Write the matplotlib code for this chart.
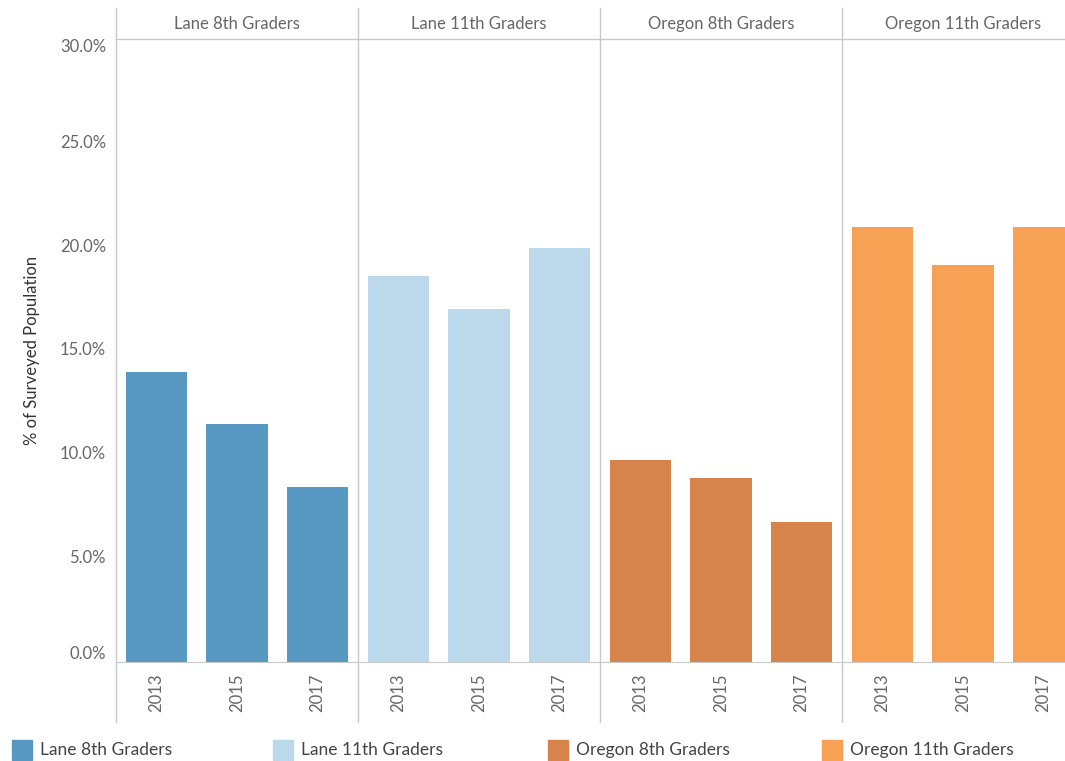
import matplotlib
matplotlib.use("Agg")
import matplotlib.pyplot as plt
from matplotlib.lines import Line2D

plt.rcParams['font.family'] = ['Lato', 'DejaVu Sans']

# data
groups = ["Lane 8th Graders", "Lane 11th Graders", "Oregon 8th Graders", "Oregon 11th Graders"]
years = ["2013", "2015", "2017"]
lane_8th = [13.95, 11.45, 8.45]
lane_11th = [18.6, 17.0, 19.95]
oregon_8th = [9.75, 8.85, 6.75]
oregon_11th = [20.95, 19.1, 20.95]
values = [lane_8th, lane_11th, oregon_8th, oregon_11th]
colors = ["#5899c4", "#bcd9ec", "#d6844b", "#f6a154"]
yticks = [0, 5, 10, 15, 20, 25, 30]

W, H = 1065, 761
fig = plt.figure(figsize=(W / 100, H / 100), dpi=100)

left = 116
panel_w = 242
top = 39
bottom = 662
grey = "#c8c8c8"
txt = "#666666"

for i, (g, vals, c) in enumerate(zip(groups, values, colors)):
    x0 = left + i * panel_w
    ax = fig.add_axes([x0 / W, 1 - bottom / H, panel_w / W, (bottom - top) / H])
    ax.bar(range(len(years)), vals, width=0.76, color=c)
    ax.set_xlim(-0.5, 2.5)
    ax.set_ylim(0, 30)
    for s in ["top", "right", "left"]:
        ax.spines[s].set_visible(False)
    ax.spines["bottom"].set_color(grey)
    ax.set_xticks(range(len(years)))
    ax.set_xticklabels(years, rotation=90, color=txt, fontsize=12)
    ax.tick_params(axis="x", length=0, pad=8)
    ax.set_yticks([])
    if i == 0:
        # tick labels as text so the end labels sit inside the range
        trans = matplotlib.transforms.blended_transform_factory(fig.transFigure, ax.transData)
        for v in yticks:
            va = "center"
            if v == 30:
                va = "top"
            elif v == 0:
                va = "bottom"
            ax.text(106 / W, v, f"{v:.1f}%", transform=trans,
                    ha="right", va=va, color=txt, fontsize=12)
    fig.text((x0 + panel_w / 2) / W, 1 - 24 / H, g, ha="center", va="center",
             color=txt, fontsize=12)

fig.text(32 / W, 1 - 350 / H, "% of Surveyed Population", rotation=90,
         ha="center", va="center", color="#333333", fontsize=12)

# separators and header line
for i in range(4):
    x = (left + i * panel_w) / W
    fig.add_artist(Line2D([x, x], [1 - 8 / H, 1 - 722 / H], color=grey, lw=1))
fig.add_artist(Line2D([left / W, 1], [1 - top / H, 1 - top / H], color=grey, lw=1))

# legend
leg_x = [12, 273, 548, 822]
for lx, g, c in zip(leg_x, groups, colors):
    fig.patches.append(plt.Rectangle((lx / W, 1 - 760 / H), 20 / W, 20 / H,
                                     color=c, transform=fig.transFigure))
    fig.text((lx + 28) / W, 1 - 750 / H, g, ha="left", va="center", color="#444444", fontsize=12.5)

fig.savefig("out.png", dpi=100)
